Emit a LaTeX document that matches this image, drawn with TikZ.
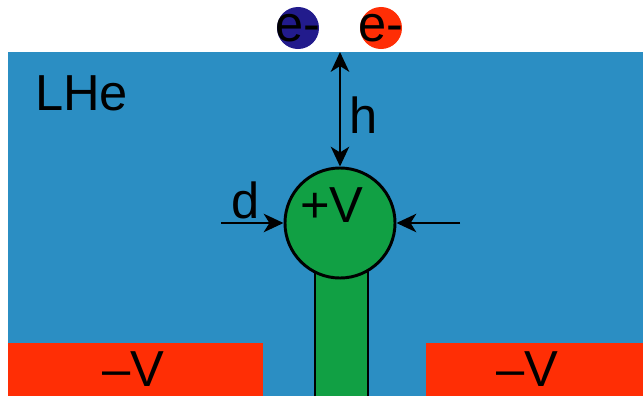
\documentclass[tikz,border=0pt]{standalone}
\usepackage{fontspec}
\setmainfont{Liberation Sans}
\usetikzlibrary{arrows.meta,calc,positioning}
\definecolor{helium}{HTML}{2B8EC3}
\definecolor{plate}{HTML}{FF2E05}
\definecolor{tipgreen}{HTML}{11A044}
\definecolor{elecblue}{HTML}{221B8C}
\tikzset{>={Stealth[length=14pt,width=13pt,inset=4pt]},
  every node/.style={font=\fontsize{36}{40}\selectfont,inner sep=2pt},
  tipbody/.style={fill=tipgreen,draw=black},
  electron/.style={circle,inner sep=0pt,minimum size=1.05cm}}
\begin{document}
\begin{tikzpicture}[x=0.025cm,y=-0.025cm,line width=2.1pt]
\useasboundingbox (0,0) rectangle (643,396);
% helium bath and the two side electrodes
\fill[helium] (8,52) rectangle (643,396);
\fill[plate] (8,343) rectangle (263,396);
\fill[plate] (426,343) rectangle (643,396);
\node[anchor=base west] (lhe) at (31,110) {LHe};
\node[anchor=base] (lv) at (133,386) {--V};
\node[anchor=base] (rv) at (527,386) {--V};
% tip
\filldraw[tipbody] (315,396) -- (315,260) -- (368,260) -- (368,396);
\node[circle,tipbody,minimum size=2.75cm,inner sep=0pt] (tip) at (340,223) {};
\node[anchor=base] (pv) at (332,222) {+V};
% dimensions
\coordinate (surf) at (340,52);
\coordinate (dl) at (221,223); \coordinate (dr) at (460,223);
\draw[<->] (surf) -- node[pos=.55,right,xshift=4pt] (h) {h} (tip.north);
\draw[->] (dl) -- node[pos=.4,above] (d) {d} (tip.west);
\draw[->] (dr) -- (tip.east);
% electrons
\node[electron,fill=elecblue] (e1) at (298,28) {\makebox[0pt]{e-}};
\node[electron,fill=plate] (e2) at (381,28) {\makebox[0pt]{e-}};
\end{tikzpicture}
\end{document}
